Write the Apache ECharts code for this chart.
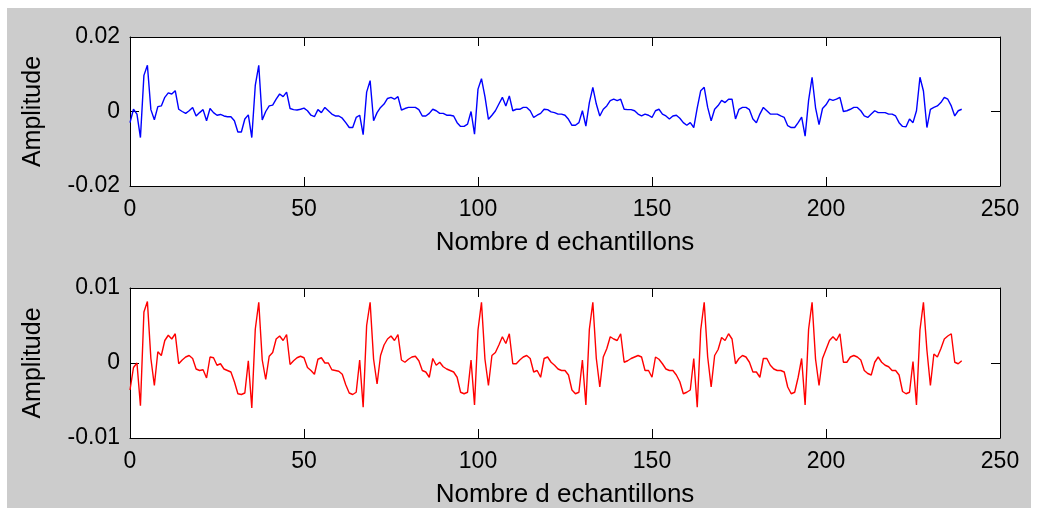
<!DOCTYPE html>
<html>
<head>
<meta charset="utf-8">
<title>Amplitude</title>
<script src="https://cdn.jsdelivr.net/npm/echarts@6/dist/echarts.min.js"></script>
<style>
  html, body { margin: 0; padding: 0; background: #fff; }
  #bg { position: absolute; left: 7px; top: 8px; width: 1024px; height: 500px; background: #cccccc; }
  #main { position: absolute; left: 0; top: 0; width: 1038px; height: 508px; }
</style>
</head>
<body>
<div id="bg"></div>
<div id="main"></div>
<script>
// axes
const xTicks = [0, 50, 100, 150, 200, 250];
const yTicksTop = [-0.02, 0, 0.02];
const yTicksBottom = [-0.01, 0, 0.01];
const xName = 'Nombre d echantillons';
const yName = 'Amplitude';

// signal du haut (bleu), 240 echantillons
const ampBlue = [
  -0.0030, 0.0006, -0.0007, -0.0070, 0.0097, 0.0124, 0.0005, -0.0022, 0.0013, 0.0015, 0.0038, 0.0050, 0.0047, 0.0056, 0.0006, 0.0000,
  -0.0005, 0.0002, 0.0011, -0.0012, -0.0003, 0.0005, -0.0025, 0.0008, -0.0003, -0.0010, -0.0008, -0.0012, -0.0014, -0.0014, -0.0025, -0.0055,
  -0.0055, -0.0020, -0.0009, -0.0070, 0.0070, 0.0124, -0.0023, 0.0000, 0.0015, 0.0017, 0.0033, 0.0047, 0.0040, 0.0052, 0.0008, 0.0005,
  0.0004, 0.0006, 0.0009, 0.0002, -0.0010, -0.0014, 0.0005, -0.0003, 0.0011, 0.0002, -0.0007, -0.0012, -0.0012, -0.0018, -0.0030, -0.0043,
  -0.0043, -0.0016, -0.0010, -0.0062, 0.0052, 0.0083, -0.0025, -0.0003, 0.0011, 0.0020, 0.0035, 0.0038, 0.0033, 0.0040, 0.0004, 0.0008,
  0.0011, 0.0011, 0.0011, 0.0005, -0.0012, -0.0012, -0.0005, 0.0006, 0.0002, -0.0005, -0.0005, -0.0010, -0.0010, -0.0012, -0.0030, -0.0040,
  -0.0040, -0.0034, 0.0000, -0.0061, 0.0060, 0.0088, 0.0040, -0.0021, -0.0010, 0.0002, 0.0020, 0.0038, 0.0015, 0.0042, 0.0002, 0.0006,
  0.0006, 0.0011, 0.0011, 0.0002, -0.0016, -0.0010, -0.0005, 0.0006, 0.0005, -0.0001, -0.0003, -0.0007, -0.0007, -0.0010, -0.0021, -0.0037,
  -0.0037, -0.0030, 0.0002, -0.0039, 0.0024, 0.0065, 0.0020, -0.0012, 0.0006, 0.0015, 0.0029, 0.0033, 0.0029, 0.0033, 0.0006, 0.0005,
  0.0005, 0.0002, -0.0007, -0.0012, -0.0007, -0.0010, -0.0016, 0.0002, 0.0006, -0.0007, -0.0012, -0.0020, -0.0012, -0.0010, -0.0018, -0.0030,
  -0.0037, -0.0030, -0.0043, 0.0010, 0.0056, 0.0065, 0.0011, -0.0025, 0.0006, 0.0016, 0.0030, 0.0024, 0.0033, 0.0033, -0.0020, 0.0006,
  0.0011, 0.0011, 0.0005, -0.0020, -0.0030, -0.0007, 0.0011, 0.0002, -0.0007, -0.0007, -0.0007, -0.0012, -0.0016, -0.0038, -0.0043, -0.0043,
  -0.0030, -0.0015, -0.0066, 0.0030, 0.0092, 0.0010, -0.0035, 0.0008, 0.0018, 0.0033, 0.0030, 0.0033, 0.0038, 0.0000, 0.0002, 0.0006,
  0.0011, 0.0011, 0.0002, -0.0012, -0.0016, -0.0007, 0.0002, -0.0003, -0.0003, -0.0003, -0.0007, -0.0007, -0.0012, -0.0030, -0.0040, -0.0041,
  -0.0020, -0.0030, 0.0002, 0.0092, 0.0055, -0.0043, 0.0006, 0.0011, 0.0015, 0.0024, 0.0038, 0.0033, 0.0015, -0.0012, 0.0002, 0.0006
];

// signal du bas (rouge), 240 echantillons
const ampRed = [
  -0.0036, -0.0006, 0.0000, -0.0057, 0.0068, 0.0082, 0.0006, -0.0030, 0.0015, 0.0010, 0.0030, 0.0037, 0.0032, 0.0039, -0.0001, 0.0004,
  0.0008, 0.0010, 0.0006, -0.0008, -0.0010, -0.0009, -0.0020, 0.0008, 0.0007, -0.0003, -0.0001, -0.0008, -0.0010, -0.0012, -0.0025, -0.0041,
  -0.0042, -0.0040, 0.0003, -0.0060, 0.0045, 0.0081, 0.0004, -0.0022, 0.0009, 0.0014, 0.0032, 0.0036, 0.0030, 0.0038, -0.0002, 0.0003,
  0.0007, 0.0009, 0.0007, -0.0006, -0.0010, -0.0015, 0.0005, 0.0007, 0.0000, 0.0000, -0.0009, -0.0010, -0.0011, -0.0015, -0.0029, -0.0040,
  -0.0042, -0.0039, 0.0004, -0.0059, 0.0050, 0.0081, 0.0005, -0.0028, 0.0010, 0.0024, 0.0032, 0.0036, 0.0030, 0.0038, 0.0004, 0.0001,
  0.0005, 0.0008, 0.0009, 0.0003, -0.0010, -0.0012, -0.0019, 0.0006, -0.0003, 0.0001, -0.0005, -0.0008, -0.0010, -0.0012, -0.0019, -0.0039,
  -0.0041, -0.0039, 0.0004, -0.0056, 0.0044, 0.0081, 0.0005, -0.0030, 0.0010, 0.0014, 0.0024, 0.0035, 0.0026, 0.0039, -0.0001, -0.0001,
  0.0004, 0.0008, 0.0010, 0.0006, -0.0012, -0.0010, -0.0019, 0.0006, 0.0008, 0.0001, -0.0003, -0.0008, -0.0010, -0.0010, -0.0016, -0.0036,
  -0.0041, -0.0039, 0.0004, -0.0056, 0.0045, 0.0081, 0.0006, -0.0032, 0.0008, 0.0019, 0.0035, 0.0032, 0.0030, 0.0039, 0.0001, 0.0003,
  0.0006, 0.0008, 0.0010, 0.0008, -0.0010, -0.0010, -0.0019, 0.0008, 0.0005, -0.0001, -0.0008, -0.0010, -0.0010, -0.0016, -0.0025, -0.0041,
  -0.0039, -0.0036, 0.0006, -0.0059, 0.0044, 0.0081, 0.0008, -0.0032, 0.0010, 0.0018, 0.0034, 0.0030, 0.0039, 0.0032, -0.0001, 0.0006,
  0.0010, 0.0008, 0.0001, -0.0012, -0.0012, -0.0019, 0.0006, 0.0006, -0.0003, -0.0008, -0.0010, -0.0010, -0.0012, -0.0032, -0.0041, -0.0039,
  -0.0019, 0.0006, -0.0056, 0.0045, 0.0081, 0.0005, -0.0030, 0.0006, 0.0018, 0.0030, 0.0035, 0.0030, 0.0039, 0.0001, 0.0001, 0.0008,
  0.0010, 0.0008, 0.0004, -0.0010, -0.0014, -0.0016, 0.0001, 0.0008, 0.0001, -0.0003, -0.0005, -0.0010, -0.0010, -0.0016, -0.0038, -0.0041,
  -0.0039, 0.0002, -0.0056, 0.0044, 0.0081, 0.0017, -0.0030, 0.0012, 0.0008, 0.0019, 0.0032, 0.0036, 0.0039, 0.0001, -0.0001, 0.0003
];

const FONT = "'Liberation Sans', Arial, sans-serif";

function fmt(v) {
    if (Math.abs(v) < 1e-12) return '0';
    return String(+v.toFixed(4));
}

/**
 * axe x : en bas avec libelles, en haut seulement les graduations
 */
function xAxisOf(gridIndex, position, withLabels) {
    return {
        type: 'value',
        gridIndex: gridIndex,
        position: position,
        min: xTicks[0],
        max: xTicks[xTicks.length - 1],
        interval: xTicks[1] - xTicks[0],
        axisLine: { show: true, onZero: false, lineStyle: { color: '#000', width: 1 } },
        axisTick: { show: true, inside: true, length: 9, lineStyle: { color: '#000', width: 1 } },
        axisLabel: {
            show: withLabels, margin: 12, color: '#000',
            fontFamily: FONT, fontSize: 23, formatter: fmt
        },
        splitLine: { show: false },
        name: withLabels ? xName : '',
        nameLocation: 'middle',
        nameGap: 44,
        nameTextStyle: { color: '#000', fontFamily: FONT, fontSize: 26 }
    };
}

/**
 * axe y : a gauche avec libelles, a droite seulement les graduations
 */
function yAxisOf(gridIndex, position, ticks, withLabels) {
    return {
        type: 'value',
        gridIndex: gridIndex,
        position: position,
        min: ticks[0],
        max: ticks[ticks.length - 1],
        interval: ticks[1] - ticks[0],
        axisLine: { show: true, onZero: false, lineStyle: { color: '#000', width: 1 } },
        axisTick: { show: true, inside: true, length: 9, lineStyle: { color: '#000', width: 1 } },
        axisLabel: {
            show: withLabels, margin: 10, color: '#000',
            fontFamily: FONT, fontSize: 23, formatter: fmt
        },
        splitLine: { show: false },
        name: withLabels ? yName : '',
        nameLocation: 'middle',
        nameRotate: 90,
        nameGap: 84,
        nameTextStyle: { color: '#000', fontFamily: FONT, fontSize: 25 }
    };
}

const chart = echarts.init(document.getElementById('main'));

chart.setOption({
    animation: false,
    grid: [
        { left: 130, top: 37, width: 870, height: 149, show: true, backgroundColor: '#fff', borderWidth: 0, outerBoundsMode: 'none' },
        { left: 130, top: 288, width: 870, height: 150, show: true, backgroundColor: '#fff', borderWidth: 0, outerBoundsMode: 'none' }
    ],
    xAxis: [
        xAxisOf(0, 'bottom', true),
        xAxisOf(0, 'top', false),
        xAxisOf(1, 'bottom', true),
        xAxisOf(1, 'top', false)
    ],
    yAxis: [
        yAxisOf(0, 'left', yTicksTop, true),
        yAxisOf(0, 'right', yTicksTop, false),
        yAxisOf(1, 'left', yTicksBottom, true),
        yAxisOf(1, 'right', yTicksBottom, false)
    ],
    series: [
        {
            type: 'line',
            xAxisIndex: 0,
            yAxisIndex: 0,
            data: ampBlue.map((v, i) => [i, v]),
            showSymbol: false,
            symbol: 'none',
            lineStyle: { color: '#0000ff', width: 1.4 },
            z: 3
        },
        {
            type: 'line',
            xAxisIndex: 2,
            yAxisIndex: 2,
            data: ampRed.map((v, i) => [i, v]),
            showSymbol: false,
            symbol: 'none',
            lineStyle: { color: '#ff0000', width: 1.4 },
            z: 3
        }
    ]
});
</script>
</body>
</html>
